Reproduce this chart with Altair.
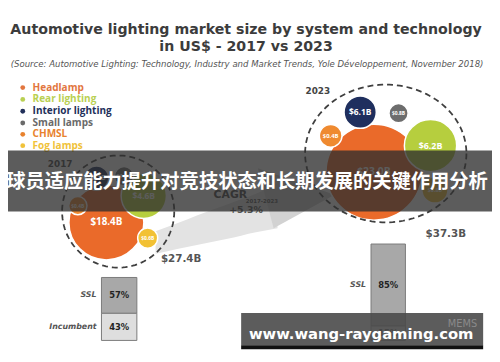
import math
import altair as alt
import pandas as pd

# ---------------- data ----------------
systems = ["Headlamp", "Rear lighting", "Interior lighting", "Small lamps", "CHMSL", "Fog lamps"]
value_2017 = [18.4, 4.6, 2.1, 1.3, 0.4, 0.6]
value_2023 = [23.0, 6.2, 6.1, 0.8, 0.4, 0.8]
years = ["2017", "2023"]
totals = [27.4, 37.3]
cagr_label = "+5.3%"
cagr_period = "2017-2023"
techs = ["SSL", "Incumbent"]
share_2017 = [57, 43]
share_2023 = [85, 15]

title_1 = "Automotive lighting market size by system and technology"
title_2 = "in US$ - 2017 vs 2023"
source = "(Source: Automotive Lighting: Technology, Industry and Market Trends, Yole Développement, November 2018)"
banner_text = "球员适应能力提升对竞技状态和长期发展的关键作用分析"
watermark = "www.wang-raygaming.com"

# ---------------- layout (picture pixels) ----------------
bubble_colors = ["#ea6a2a", "#b6ce3e", "#1f2f5e", "#6d6d6d", "#ef8a30", "#f2c134"]
legend_colors = ["#e2763f", "#b9d052", "#22305a", "#6a6a6a", "#e8822e", "#f0c23a"]
legend_y = [86, 98, 110, 122, 133.5, 145]
bx17 = [108, 146, 98, 126, 79, 150]
by17 = [223, 196, 178, 176, 206, 239]
br17 = [43, 26, 14, 11, 10.5, 11.5]
lf17 = [10, 8.5, 7, 6, 5, 5]
bx23 = [380, 437.5, 366, 405, 336, 442]
by23 = [172, 145, 111, 112, 135, 190]
br23 = [55, 30, 18.5, 11, 13, 15]
lf23 = [10.5, 9, 8.5, 5, 6, 5.5]
ring_x = [120, 392]
ring_y = [212, 153]
ring_rx = [57, 82]
ring_ry = [57, 70]
bar_x = [[103, 139], [377, 412]]
bar_base = 343
bar_h = [64, 98]

X0, X1, Y0, Y1 = 8, 500, 8, 362
xs = alt.Scale(domain=[X0, X1], zero=False, nice=False)
ys = alt.Scale(domain=[Y0, Y1], zero=False, nice=False, reverse=True)


def X(f="x"):
    return alt.X(f"{f}:Q", scale=xs, axis=None)


def Y(f="y"):
    return alt.Y(f"{f}:Q", scale=ys, axis=None)


def txt(x, y, s, **style):
    df = pd.DataFrame({"x": [x], "y": [y], "t": [s]})
    return alt.Chart(df).mark_text(**style).encode(x=X(), y=Y(), text="t:N")


layers = []

# background arrow swoosh
band = pd.DataFrame({
    "x": [158, 180, 200, 230, 260, 282],
    "y": [232, 224, 216, 205, 194, 184],
    "y2": [255, 250, 246, 240, 233, 229],
})
layers.append(alt.Chart(band).mark_area(color="#e3e3e3", interpolate="monotone")
              .encode(x=X(), y=Y(), y2="y2:Q"))
head = pd.DataFrame({"x": [262, 278, 340], "y": [168, 173.5, 195], "y2": [168, 229, 195]})
layers.append(alt.Chart(head).mark_area(color="#d2d2d2").encode(x=X(), y=Y(), y2="y2:Q"))

# bubbles
rows = []
for vals, bx, by, br, lf in [(value_2017, bx17, by17, br17, lf17),
                             (value_2023, bx23, by23, br23, lf23)]:
    for i, sname in enumerate(systems):
        rows.append({"system": sname, "value": vals[i], "x": bx[i], "y": by[i],
                     "s": math.pi * br[i] ** 2, "c": bubble_colors[i],
                     "lab": f"${vals[i]:.1f}B", "fs": lf[i]})
bub = pd.DataFrame(rows)
layers.append(alt.Chart(bub).mark_circle(opacity=1, stroke="white", strokeWidth=1.5)
              .encode(x=X(), y=Y(), size=alt.Size("s:Q", scale=None),
                      color=alt.Color("c:N", scale=None)))
layers.append(alt.Chart(bub).mark_text(font="Open Sans", fontWeight="bold", color="white")
              .encode(x=X(), y=Y(), text="lab:N", size=alt.Size("fs:Q", scale=None)))

# dashed rings (outline traced through the x/y scales)
ring_rows = []
for k, (rx, ry, cx, cy) in enumerate(zip(ring_rx, ring_ry, ring_x, ring_y)):
    n = 144
    for i in range(n + 1):
        a = 2 * math.pi * i / n
        ring_rows.append({"ring": years[k], "i": i,
                          "x": cx + rx * math.cos(a), "y": cy + ry * math.sin(a)})
rings = pd.DataFrame(ring_rows)
layers.append(alt.Chart(rings).mark_line(color="#3f3f3f", strokeWidth=1.8, strokeDash=[6, 4],
                                         opacity=1)
              .encode(x=X(), y=Y(), detail="ring:N", order="i:Q"))

# legend
leg = pd.DataFrame({"t": systems, "y": legend_y, "c": legend_colors,
                    "x": [23] * 6, "tx": [33] * 6})
layers.append(alt.Chart(leg).mark_circle(size=24, opacity=1)
              .encode(x=X(), y=Y(), color=alt.Color("c:N", scale=None)))
layers.append(alt.Chart(leg).mark_text(align="left", baseline="middle", font="Open Sans",
                                       fontWeight="bold", fontSize=10.2)
              .encode(x=X("tx"), y=Y(), text="t:N", color=alt.Color("c:N", scale=None)))

# year labels & totals
layers.append(txt(61, 164, years[0], font="DejaVu Sans", fontWeight="bold", fontSize=9, color="#444444"))
layers.append(txt(323, 90, years[1], font="DejaVu Sans", fontWeight="bold", fontSize=9, color="#444444"))
layers.append(txt(184, 260, f"${totals[0]}B", font="DejaVu Sans", fontWeight="bold", fontSize=10.5, color="#555555"))
layers.append(txt(453, 235, f"${totals[1]}B", font="DejaVu Sans", fontWeight="bold", fontSize=10.5, color="#555555"))

# CAGR
layers.append(txt(234, 195, "CAGR", font="DejaVu Sans", fontWeight="bold", fontSize=11, color="#444444"))
layers.append(txt(266, 201, cagr_period, font="DejaVu Sans", fontWeight="bold", fontSize=5.5, color="#555555"))
layers.append(txt(250, 210, cagr_label, font="DejaVu Sans", fontWeight="bold", fontSize=9.5, color="#555555"))

# SSL / incumbent bars
brows = []
for k, shares in enumerate([share_2017, share_2023]):
    top = bar_base - bar_h[k]
    y = top
    for j, t in enumerate(techs):
        h = bar_h[k] * shares[j] / 100.0
        brows.append({"x": bar_x[k][0], "x2": bar_x[k][1], "y": y, "y2": y + h,
                      "c": "#a8a8a8" if j == 0 else "#dedede",
                      "lab": f"{shares[j]}%", "tech": t,
                      "cx": (bar_x[k][0] + bar_x[k][1]) / 2, "cy": y + h / 2,
                      "lx": bar_x[k][0] - 5})
        y += h
bars = pd.DataFrame(brows)
layers.append(alt.Chart(bars).mark_rect(stroke="#7a7a7a", strokeWidth=1)
              .encode(x=X(), x2="x2:Q", y=Y(), y2="y2:Q", color=alt.Color("c:N", scale=None)))
layers.append(alt.Chart(bars).mark_text(font="DejaVu Sans", fontWeight="bold", fontSize=8.5, color="#222222")
              .encode(x=X("cx"), y=Y("cy"), text="lab:N"))
tlab = bars.iloc[[0, 1, 2]]
layers.append(alt.Chart(tlab).mark_text(align="right", font="DejaVu Sans", fontStyle="italic",
                                        fontWeight="bold", fontSize=8, color="#555555")
              .encode(x=X("lx"), y=Y("cy"), text="tech:N"))

# titles
layers.append(txt(250, 27, title_1, font="DejaVu Sans", fontWeight="bold", fontSize=14.4, color="#3c3c3c"))
layers.append(txt(250, 45, title_2, font="DejaVu Sans", fontWeight="bold", fontSize=14.4, color="#3c3c3c"))
layers.append(txt(251, 62, source, font="DejaVu Sans", fontStyle="italic", fontSize=8.7, color="#555555"))

# overlay banners
ov = pd.DataFrame({"x": [X0], "x2": [X1], "y": [150], "y2": [212]})
layers.append(alt.Chart(ov).mark_rect(color="#2e2e2e", opacity=0.78)
              .encode(x=X(), x2="x2:Q", y=Y(), y2="y2:Q"))
layers.append(txt(251, 182, banner_text, font="Noto Sans CJK SC", fontWeight="bold", fontSize=19.6, color="white"))

wm = pd.DataFrame({"x": [245], "x2": [491], "y": [315], "y2": [348]})
layers.append(alt.Chart(wm).mark_rect(color="#4a4a4a", opacity=0.9)
              .encode(x=X(), x2="x2:Q", y=Y(), y2="y2:Q"))
wm2 = pd.DataFrame({"x": [245], "x2": [491], "y": [348], "y2": [352]})
layers.append(alt.Chart(wm2).mark_rect(color="#111111")
              .encode(x=X(), x2="x2:Q", y=Y(), y2="y2:Q"))
layers.append(txt(470, 326, "MEMS", font="DejaVu Sans", fontSize=10, color="#8a8a8a"))
layers.append(txt(367, 337, watermark, font="DejaVu Sans", fontWeight="bold", fontSize=15, color="white"))

chart = alt.layer(*layers).properties(
    width=X1 - X0, height=Y1 - Y0, padding=0, autosize="none", background="white"
).configure_view(stroke=None)

chart.save("out.html", embed_options={"renderer": "svg", "actions": False})
